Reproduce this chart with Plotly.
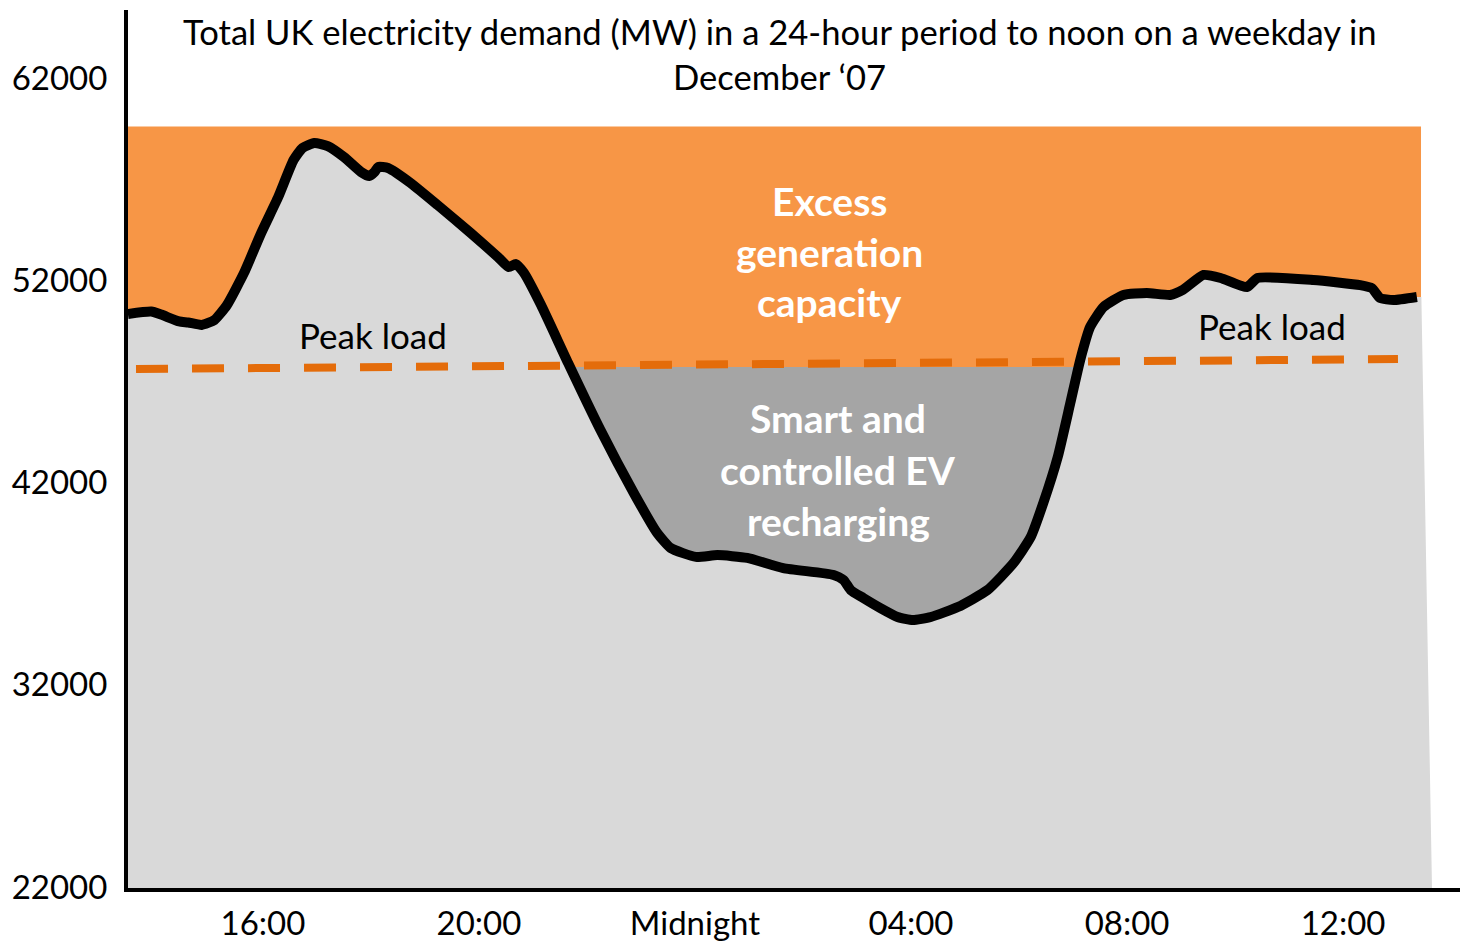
import numpy as np
import pandas as pd
import plotly.graph_objects as go

# ---- data ----
times = [
    "2007-12-10 13:30", "2007-12-10 13:56", "2007-12-10 14:07", "2007-12-10 14:27",
    "2007-12-10 14:37", "2007-12-10 14:52", "2007-12-10 15:06", "2007-12-10 15:20",
    "2007-12-10 15:39", "2007-12-10 15:58", "2007-12-10 16:17", "2007-12-10 16:34",
    "2007-12-10 16:44", "2007-12-10 16:57", "2007-12-10 17:12", "2007-12-10 17:30",
    "2007-12-10 17:49", "2007-12-10 17:58", "2007-12-10 18:04", "2007-12-10 18:08",
    "2007-12-10 18:19", "2007-12-10 18:44", "2007-12-10 19:14", "2007-12-10 19:51",
    "2007-12-10 20:21", "2007-12-10 20:33", "2007-12-10 20:41", "2007-12-10 20:50",
    "2007-12-10 21:09", "2007-12-10 21:39", "2007-12-10 22:15", "2007-12-10 22:52",
    "2007-12-10 23:18", "2007-12-10 23:33", "2007-12-11 00:01", "2007-12-11 00:25",
    "2007-12-11 00:58", "2007-12-11 01:38", "2007-12-11 02:34", "2007-12-11 02:45",
    "2007-12-11 02:53", "2007-12-11 03:07", "2007-12-11 03:26", "2007-12-11 03:45",
    "2007-12-11 04:02", "2007-12-11 04:22", "2007-12-11 04:52", "2007-12-11 05:25",
    "2007-12-11 05:54", "2007-12-11 06:13", "2007-12-11 06:27", "2007-12-11 06:43",
    "2007-12-11 06:57", "2007-12-11 07:08", "2007-12-11 07:19", "2007-12-11 07:34",
    "2007-12-11 07:56", "2007-12-11 08:22", "2007-12-11 08:48", "2007-12-11 09:02",
    "2007-12-11 09:25", "2007-12-11 09:44", "2007-12-11 10:13", "2007-12-11 10:25",
    "2007-12-11 11:27", "2007-12-11 12:19", "2007-12-11 12:32", "2007-12-11 12:41",
    "2007-12-11 12:56", "2007-12-11 13:22",
]
demand_mw = [
    50330, 50450, 50300, 49960, 49910, 49790, 50030, 50770,
    52360, 54330, 56110, 57940, 58540, 58780, 58630, 58090,
    57350, 57150, 57350, 57600, 57550, 56810, 55720, 54330,
    53150, 52650, 52800, 52360, 50770, 47910, 44590, 41480,
    39500, 38760, 38320, 38410, 38270, 37770, 37430, 37180,
    36680, 36290, 35790, 35350, 35200, 35350, 35840, 36680,
    38020, 39300, 40990, 43260, 45930, 48060, 49690, 50680,
    51270, 51370, 51270, 51520, 52260, 52110, 51660, 52110,
    52010, 51760, 51610, 51120, 51020, 51170,
]
capacity_mw = 59600           # top of the excess generation band
capacity_end = "2007-12-11 13:26:36"
peak_times = ["2007-12-10 13:39", "2007-12-11 13:01"]
peak_load_mw = [47610, 48100]
ev_threshold_mw = 47710
tick_times = ["2007-12-10 16:00", "2007-12-10 20:00", "2007-12-11 00:00",
              "2007-12-11 04:00", "2007-12-11 08:00", "2007-12-11 12:00"]
tick_labels = ["16:00", "20:00", "Midnight", "04:00", "08:00", "12:00"]
y_ticks = [22000, 32000, 42000, 52000, 62000]

X_RANGE = ["2007-12-10 13:30:06", "2007-12-11 14:18:48"]
Y_RANGE = [21950, 65360]

ORANGE = "#F79646"
LIGHT = "#D9D9D9"
DARK = "#A5A5A5"
DASH = "#E46C0A"
FONT = "Lato"

t = pd.to_datetime(times)
d = np.array(demand_mw, dtype=float)

fig = go.Figure()

# orange band (excess generation capacity)
fig.add_trace(go.Scatter(
    x=[t[0], pd.Timestamp(capacity_end), pd.Timestamp(capacity_end), t[0]],
    y=[capacity_mw, capacity_mw, Y_RANGE[0], Y_RANGE[0]],
    fill="toself", fillcolor=ORANGE, mode="none", hoverinfo="skip"))

# light grey area under the demand curve
gx = list(t) + [pd.Timestamp("2007-12-11 13:27"), pd.Timestamp("2007-12-11 13:38:48"), t[0]]
gy = list(d) + [d[-1], Y_RANGE[0], Y_RANGE[0]]
fig.add_trace(go.Scatter(x=gx, y=gy, fill="toself", fillcolor=LIGHT,
                         mode="none", hoverinfo="skip"))

# dark grey region: demand below the peak-load level
tn = t.astype("int64").to_numpy().astype(float)
px_, py_ = [], []
for i in range(len(d)):
    if d[i] < ev_threshold_mw:
        px_.append(tn[i]); py_.append(d[i])
    if i < len(d) - 1 and (d[i] - ev_threshold_mw) * (d[i + 1] - ev_threshold_mw) < 0:
        tc = tn[i] + (ev_threshold_mw - d[i]) / (d[i + 1] - d[i]) * (tn[i + 1] - tn[i])
        px_.append(tc); py_.append(ev_threshold_mw)
fig.add_trace(go.Scatter(x=pd.to_datetime(np.array(px_).astype("int64")), y=py_,
                         fill="toself", fillcolor=DARK, mode="none", hoverinfo="skip"))

# peak load dashed line
fig.add_trace(go.Scatter(x=pd.to_datetime(peak_times), y=peak_load_mw, mode="lines",
                         line=dict(color=DASH, width=8, dash="32px,24px"),
                         hoverinfo="skip"))

# demand curve
fig.add_trace(go.Scatter(x=t, y=d, mode="lines",
                         line=dict(color="black", width=10, shape="spline", smoothing=0.5),
                         hoverinfo="skip"))

ann = []
def add_text(x, y, text, size, color="black", bold=False, xref="x", yref="y"):
    ann.append(dict(x=x, y=y, xref=xref, yref=yref, text=f"<b>{text}</b>" if bold else text,
                    showarrow=False, xanchor="center", yanchor="middle",
                    font=dict(family=FONT, size=size, color=color)))

add_text(0.4862, 0.975, "Total UK electricity demand (MW) in a 24-hour period to noon on a weekday in",
         34.6, xref="paper", yref="paper")
add_text(0.4862, 0.9248, "December \u201807", 34.6, xref="paper", yref="paper")
for yv, txt in zip([55916, 53394, 50922], ["Excess", "generation", "capacity"]):
    add_text("2007-12-11 02:29", yv, txt, 39, color="white", bold=True)
for yv, txt in zip([45187, 42617, 40095], ["Smart and", "controlled EV", "recharging"]):
    add_text("2007-12-11 02:39", yv, txt, 39, color="white", bold=True)
add_text("2007-12-10 18:02", 49291, "Peak load", 35)
add_text("2007-12-11 10:41", 49736, "Peak load", 35)

# page body has an 8px margin, so the figure is sized/offset to compensate
fig.update_layout(
    width=1460, height=935,
    margin=dict(l=120, r=0, t=2, b=55, autoexpand=False),
    paper_bgcolor="white", plot_bgcolor="white",
    showlegend=False, annotations=ann,
    xaxis=dict(type="date", range=X_RANGE, tickvals=pd.to_datetime(tick_times),
               ticktext=tick_labels, showgrid=False, zeroline=False, automargin=False,
               showline=True, linewidth=4, linecolor="black", ticks="",
               ticklabelstandoff=3,
               tickfont=dict(family=FONT, size=33, color="black")),
    yaxis=dict(range=Y_RANGE, tickvals=y_ticks, ticktext=[str(v) for v in y_ticks],
               showgrid=False, zeroline=False, showline=True, linewidth=4, automargin=False,
               linecolor="black", ticks="", ticklabelstandoff=10,
               tickfont=dict(family=FONT, size=33, color="black")),
)

fig.write_html("out.html")
